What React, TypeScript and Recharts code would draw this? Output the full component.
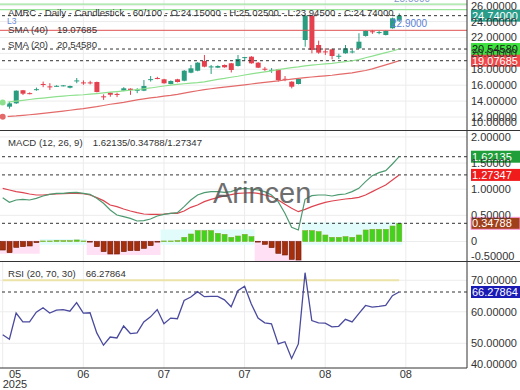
import { ComposedChart, Bar, Line, XAxis, YAxis, CartesianGrid, ReferenceLine, ReferenceArea } from 'recharts'

const FONT = "'Liberation Sans', Arial, sans-serif"

// daily candles, 60 sessions
const opens = [
  14.30, 13.30, 13.72, 15.36, 15.00, 15.45, 16.15, 15.85, 15.87, 15.88,
  15.68, 16.52, 16.35, 16.35, 16.40, 14.60, 15.06, 14.90, 15.31, 15.56,
  15.37, 15.31, 16.72, 16.90, 16.74, 16.15, 16.74, 16.56, 17.57, 17.82,
  19.04, 18.30, 18.20, 18.54, 18.75, 18.41, 19.50, 19.58, 18.83, 18.07,
  17.88, 18.00, 16.80, 16.44, 16.15, 21.68, 24.75, 21.05, 20.25, 20.51,
  19.64, 20.01, 20.18, 20.64, 22.19, 22.78, 22.62, 22.31, 23.16, 24.15,
]
const highs = [
  14.40, 13.92, 15.35, 15.40, 15.10, 15.70, 16.45, 16.25, 16.00, 16.02,
  15.95, 16.90, 16.60, 16.55, 16.45, 14.85, 15.10, 15.05, 15.75, 15.60,
  15.62, 16.65, 17.15, 17.05, 16.80, 16.60, 16.80, 17.90, 18.54, 18.90,
  19.80, 18.54, 18.50, 18.60, 18.80, 19.80, 19.55, 19.65, 18.90, 18.30,
  18.15, 18.05, 17.15, 16.50, 16.85, 24.85, 24.85, 21.60, 20.64, 20.60,
  19.95, 21.05, 20.45, 22.53, 22.90, 22.95, 22.85, 22.90, 24.50, 25.025,
]
const lows = [
  13.80, 13.05, 13.65, 14.76, 14.85, 15.30, 15.75, 15.40, 15.80, 15.85,
  15.60, 16.25, 16.05, 16.10, 15.10, 14.15, 14.55, 14.50, 15.25, 14.78,
  15.00, 15.25, 16.45, 16.75, 16.20, 16.10, 16.35, 16.50, 17.50, 17.75,
  18.25, 17.41, 18.15, 18.20, 17.60, 18.35, 19.05, 18.70, 18.15, 17.80,
  17.55, 16.45, 16.50, 15.60, 16.10, 20.84, 20.00, 19.95, 19.80, 19.26,
  19.30, 19.95, 20.00, 20.55, 22.10, 22.45, 22.40, 22.25, 23.10, 23.945,
]
const closes = [
  13.89, 13.72, 15.31, 14.93, 14.95, 15.50, 16.08, 15.78, 15.92, 15.98,
  15.90, 16.60, 16.28, 16.30, 15.14, 14.50, 14.80, 14.83, 15.61, 15.40,
  15.42, 15.90, 16.76, 16.85, 16.24, 16.53, 16.40, 17.82, 18.12, 18.83,
  18.33, 18.36, 18.41, 18.25, 17.91, 19.29, 19.53, 18.75, 18.20, 18.02,
  17.93, 16.65, 16.75, 15.81, 16.78, 24.75, 20.43, 20.09, 20.18, 19.67,
  19.70, 20.64, 20.24, 21.47, 22.82, 22.70, 22.68, 22.82, 24.41, 24.74,
]
const sma20 = [
  13.82, 13.90, 14.00, 14.10, 14.20, 14.30, 14.38, 14.46, 14.55, 14.62,
  14.70, 14.75, 14.80, 14.87, 14.95, 15.03, 15.12, 15.20, 15.28, 15.36,
  15.45, 15.55, 15.65, 15.77, 15.90, 16.00, 16.10, 16.18, 16.25, 16.32,
  16.42, 16.58, 16.72, 16.85, 17.00, 17.12, 17.28, 17.42, 17.55, 17.68,
  17.80, 17.95, 18.08, 18.20, 18.30, 18.42, 18.52, 18.60, 18.68, 18.75,
  18.85, 18.96, 19.07, 19.22, 19.45, 19.65, 19.88, 20.10, 20.30, 20.5458,
]
const sma40 = [
  12.04, 12.08, 12.13, 12.20, 12.28, 12.36, 12.45, 12.55, 12.65, 12.75,
  12.85, 12.95, 13.05, 13.17, 13.30, 13.45, 13.60, 13.72, 13.85, 14.00,
  14.15, 14.28, 14.40, 14.50, 14.62, 14.72, 14.85, 15.00, 15.15, 15.30,
  15.45, 15.55, 15.65, 15.75, 15.85, 15.95, 16.05, 16.15, 16.25, 16.35,
  16.45, 16.55, 16.65, 16.75, 16.85, 16.95, 17.03, 17.10, 17.18, 17.25,
  17.35, 17.45, 17.55, 17.70, 17.85, 18.05, 18.30, 18.55, 18.80, 19.07685,
]
const macd = [
  0.838, 0.749, 0.794, 0.806, 0.794, 0.825, 0.870, 0.902, 0.921, 0.921,
  0.934, 0.940, 0.921, 0.902, 0.825, 0.730, 0.602, 0.507, 0.475, 0.443,
  0.392, 0.398, 0.430, 0.488, 0.519, 0.539, 0.551, 0.666, 0.794, 0.889,
  0.934, 0.953, 0.953, 0.940, 0.953, 1.004, 1.017, 1.004, 0.985, 0.953,
  0.889, 0.762, 0.539, 0.271, 0.220, 0.806, 0.876, 0.889, 0.889, 0.870,
  0.895, 0.908, 0.953, 1.017, 1.144, 1.259, 1.316, 1.354, 1.482, 1.62135,
]
const signal = [
  1.017, 0.985, 0.953, 0.934, 0.908, 0.889, 0.889, 0.902, 0.908, 0.915,
  0.921, 0.921, 0.915, 0.889, 0.838, 0.781, 0.698, 0.666, 0.621, 0.583,
  0.551, 0.526, 0.519, 0.519, 0.526, 0.539, 0.539, 0.583, 0.653, 0.698,
  0.762, 0.806, 0.838, 0.870, 0.895, 0.921, 0.927, 0.934, 0.921, 0.889,
  0.857, 0.794, 0.711, 0.634, 0.570, 0.615, 0.666, 0.711, 0.749, 0.774,
  0.794, 0.813, 0.825, 0.845, 0.889, 0.953, 1.017, 1.080, 1.176, 1.27347,
]
const histogram = [
  -0.163, -0.214, -0.112, -0.099, -0.086, -0.022, 0.010, 0.010, 0.022, 0.016,
  0.016, 0.029, 0.010, -0.005, -0.099, -0.194, -0.239, -0.239, -0.194, -0.175,
  -0.175, -0.131, -0.080, -0.010, 0.010, 0.010, 0.016, 0.080, 0.143, 0.207,
  0.207, 0.207, 0.156, 0.137, 0.080, 0.105, 0.137, 0.092, -0.010, -0.054,
  -0.118, -0.226, -0.258, -0.341, -0.354, 0.207, 0.207, 0.188, 0.124, 0.080,
  0.080, 0.092, 0.080, 0.124, 0.220, 0.233, 0.233, 0.233, 0.296, 0.34788,
]
const rsi = [
  52.7, 51.3, 59.6, 56.8, 56.8, 59.9, 61.3, 59.6, 60.5, 60.7,
  60.2, 62.9, 59.6, 59.7, 53.3, 49.4, 52.0, 51.7, 55.5, 53.1,
  53.3, 56.8, 58.4, 60.7, 56.2, 58.0, 57.8, 63.6, 64.7, 66.4,
  64.8, 64.9, 64.9, 63.8, 61.6, 66.7, 68.1, 62.5, 58.0, 56.5,
  56.2, 49.8, 50.5, 45.2, 49.8, 72.4, 57.2, 56.5, 56.4, 55.2,
  55.4, 57.6, 56.8, 59.4, 62.0, 61.5, 61.7, 62.0, 65.1, 66.27864,
]

const monthTicks = [0, 12, 24, 36, 48, 60]
const monthLabels = ['05', '06', '07', '07', '08', '08']
const priceTicks = [10, 12, 14, 16, 18, 20, 22, 24, 26]
const macdTicks = [-0.5, 0, 0.5, 1, 1.5, 2]
const rsiTicks = [40, 50, 60, 70]

const data = opens.map((o, i) => ({
  i, open: o, high: highs[i], low: lows[i], close: closes[i],
  range: [lows[i], highs[i]],
  sma20: sma20[i], sma40: sma40[i],
  macd: macd[i], signal: signal[i], hist: histogram[i], rsi: rsi[i],
}))

// pink / cyan bands behind each run of same-sign histogram bars
const runs: { from: number; to: number; pos: boolean; ext: number }[] = []
let runStart = 0
for (let i = 1; i <= histogram.length; i++) {
  if (i === histogram.length || (histogram[i] >= 0) !== (histogram[runStart] >= 0)) {
    const seg = histogram.slice(runStart, i)
    const pos = histogram[runStart] >= 0
    runs.push({ from: runStart, to: i - 1, pos, ext: pos ? Math.max(...seg) : Math.min(...seg) })
    runStart = i
  }
}

const X_DOMAIN = [-0.4, 69.1]
const AXIS_W = 53
const UP = '#2a9d80'
const DOWN = '#e4404e'

function candleShape(props: any) {
  const { x, width, payload } = props
  let { y, height } = props
  if (height < 0) { y += height; height = -height }
  const { open, close, high, low } = payload
  const k = high > low ? height / (high - low) : 0
  const yOf = (v: number) => y + (high - v) * k
  const color = close >= open ? UP : DOWN
  const top = yOf(Math.max(open, close))
  const bot = yOf(Math.min(open, close))
  const cx = x + width / 2
  return (
    <g>
      <line x1={cx} x2={cx} y1={y} y2={y + height} stroke={color} strokeWidth={1} />
      <rect x={x} y={top} width={width} height={Math.max(1, bot - top)} fill={color} />
    </g>
  )
}

function histShape(props: any) {
  const { x, width, payload } = props
  let { y, height } = props
  if (height < 0) { y += height; height = -height }
  const pos = payload.hist >= 0
  return (
    <rect x={x} y={y} width={width} height={Math.max(height, 0.6)}
      fill={pos ? '#41d41c' : '#a52f0c'} stroke={pos ? '#86a828' : '#6e1c05'} strokeWidth={0.6} />
  )
}

function yTick(minY: number, maxY: number) {
  return (p: any) => {
    const v = p.payload.value
    const yy = Math.min(maxY, Math.max(minY, p.y))
    return (
      <text x={p.x} y={yy} dy={4} fontSize={11} fontFamily={FONT} fill="#333" textAnchor="start">
        {v === 0 ? '0' : v.toFixed(5)}
      </text>
    )
  }
}

function valueBox(text: string, bg: string, fg: string, border?: string) {
  return (p: any) => {
    const vb = p.viewBox
    const x = vb.x + vb.width + 4
    return (
      <g>
        <rect x={x} y={vb.y - 6} width={49} height={12} fill={bg} stroke={border ?? 'none'} strokeWidth={1} />
        <text x={x + 1} y={vb.y} dy={4} fontSize={11} fontFamily={FONT} fill={fg}>{text}</text>
      </g>
    )
  }
}

function xTick(p: any) {
  const idx = monthTicks.indexOf(p.payload.value)
  const first = idx === 0
  const x = first ? Math.max(p.x, 15) : p.x
  return (
    <g>
      <text x={x} y={p.y} dy={8} fontSize={11} fontFamily={FONT} fill="#333" textAnchor="middle">{monthLabels[idx]}</text>
      {first && <text x={x} y={p.y} dy={18} fontSize={11} fontFamily={FONT} fill="#333" textAnchor="middle">2025</text>}
    </g>
  )
}

const noMargin = { top: 0, right: 0, bottom: 0, left: 0 }
const txt = (top: number, left: number, extra: object = {}) => ({
  position: 'absolute' as const, top, left, fontSize: 9.6, lineHeight: '12px', color: '#333',
  fontFamily: FONT, whiteSpace: 'pre' as const, pointerEvents: 'none' as const, ...extra,
})

export default function App() {
  return (
    <div style={{ position: 'absolute', left: 0, top: 0, width: 520, height: 390, background: '#fff', overflow: 'hidden' }}>
      {/* Price panel */}
      <div style={{ position: 'absolute', left: 0, top: 0 }}>
        <ComposedChart width={520} height={131} data={data} margin={noMargin}>
          <CartesianGrid stroke="#ececec" horizontalValues={priceTicks} verticalValues={monthTicks} />
          <XAxis dataKey="i" type="number" domain={X_DOMAIN} ticks={monthTicks} hide allowDataOverflow />
          <YAxis orientation="right" width={AXIS_W} domain={[10.24, 26.71]} ticks={priceTicks} interval={0}
            allowDataOverflow axisLine={{ stroke: '#333' }} tickLine={false} tickSize={0} tickMargin={4}
            tick={yTick(5, 122)} />
          <ReferenceLine y={26.2} stroke="#9be39b" strokeWidth={1.2} />
          <ReferenceLine y={25.5} stroke="#9be39b" strokeWidth={1.2} />
          <ReferenceLine y={22.9} stroke="#e05050" strokeWidth={1} />
          <ReferenceLine y={24.74} stroke="#333" strokeDasharray="3 3" label={valueBox('24.74000', '#2a9d8a', '#fff')} />
          <ReferenceLine y={20.5458} stroke="#333" strokeDasharray="3 3" label={valueBox('20.54580', '#3ee23e', '#1a1a1a')} />
          <ReferenceLine y={19.07685} stroke="#333" strokeDasharray="3 3" label={valueBox('19.07685', '#f04848', '#fff')} />
          <Line dataKey="sma40" stroke="#e46a6a" strokeWidth={1.2} dot={false} isAnimationActive={false} />
          <Line dataKey="sma20" stroke="#8ee08e" strokeWidth={1.2} dot={false} isAnimationActive={false} />
          <Bar dataKey="range" shape={candleShape} barSize={5} isAnimationActive={false} />
        </ComposedChart>
      </div>
      <div style={txt(-7, 394, { color: '#7f96c8', fontSize: 10 })}>25.5000</div>
      <div style={txt(18, 391, { color: '#5a7fd6', fontSize: 10 })}>22.9000</div>
      <div style={txt(7, 8)}>AMRC - Daily - Candlestick - 60/100 - O:24.15000 - H:25.02500 - L:23.94500 - C:24.74000</div>
      <div style={txt(15, 7, { color: '#6a8ad8', fontSize: 8.5 })}>L3</div>
      <div style={txt(24, 8)}>SMA (40)<span style={{ marginLeft: 9 }}>19.07685</span></div>
      <div style={txt(39, 8)}>SMA (20)<span style={{ marginLeft: 9 }}>20.54580</span></div>

      {/* MACD panel */}
      <div style={{ position: 'absolute', left: 0, top: 130, width: 520, height: 1, background: '#333' }} />
      <div style={{ position: 'absolute', left: 0, top: 131 }}>
        <ComposedChart width={520} height={130} data={data} margin={noMargin}>
          <CartesianGrid stroke="#ececec" horizontalValues={macdTicks} verticalValues={monthTicks} />
          <XAxis dataKey="i" type="number" domain={X_DOMAIN} ticks={monthTicks} hide allowDataOverflow />
          <YAxis orientation="right" width={AXIS_W} domain={[-0.373, 2.113]} ticks={macdTicks} interval={0}
            allowDataOverflow axisLine={{ stroke: '#333' }} tickLine={false} tickSize={0} tickMargin={4}
            tick={yTick(5, 125)} />
          {runs.map((r, k) => (
            <ReferenceArea key={k} x1={r.from - 0.5} x2={r.to + 0.5}
              y1={r.pos ? -0.06 : 0.02} y2={r.pos ? r.ext + 0.02 : r.ext - 0.02}
              fill={r.pos ? '#e2fcfc' : '#ffe0f4'} fillOpacity={1} stroke="none" ifOverflow="hidden" />
          ))}
          <ReferenceLine y={1.62135} stroke="#333" strokeDasharray="3 3" label={valueBox('1.62135', '#1f9e3a', '#fff')} />
          <ReferenceLine y={1.27347} stroke="#333" strokeDasharray="3 3" label={valueBox('1.27347', '#f01c1c', '#fff')} />
          <ReferenceLine y={0.34788} stroke="#333" strokeDasharray="3 3" label={valueBox('0.34788', '#a0401a', '#fff', '#ff9fdc')} />
          <Bar dataKey="hist" shape={histShape} barSize={5} isAnimationActive={false} />
          <Line dataKey="signal" stroke="#de4450" strokeWidth={1.2} dot={false} isAnimationActive={false} />
          <Line dataKey="macd" stroke="#4d9a70" strokeWidth={1.2} dot={false} isAnimationActive={false} />
        </ComposedChart>
      </div>
      <div style={txt(137, 8)}>MACD (12, 26, 9)<span style={{ marginLeft: 10 }}>1.62135/0.34788/1.27347</span></div>
      <div style={txt(178, 213, { fontSize: 29, lineHeight: '30px', color: '#555', opacity: 0.85 })}>Arincen</div>

      {/* RSI panel */}
      <div style={{ position: 'absolute', left: 0, top: 261, width: 520, height: 1, background: '#333' }} />
      <div style={{ position: 'absolute', left: 0, top: 262 }}>
        <ComposedChart width={520} height={128} data={data} margin={noMargin}>
          <CartesianGrid stroke="#ececec" horizontalValues={[50, 60, 70]} verticalValues={monthTicks} />
          <XAxis dataKey="i" type="number" domain={X_DOMAIN} ticks={monthTicks} interval={0} height={22}
            allowDataOverflow axisLine={{ stroke: '#333' }} tickLine={false} tickSize={0} tickMargin={2} tick={xTick} />
          <YAxis orientation="right" width={AXIS_W} domain={[42.16, 75.8]} ticks={rsiTicks} interval={0}
            allowDataOverflow axisLine={{ stroke: '#333' }} tickLine={false} tickSize={0} tickMargin={4}
            tick={yTick(5, 102)} />
          <ReferenceLine segment={[{ x: 0, y: 70 }, { x: 59, y: 70 }]} stroke="#ebe3a8" strokeWidth={2} />
          <ReferenceLine y={66.27864} stroke="#333" strokeDasharray="3 3" label={valueBox('66.27864', '#1a1ab4', '#fff')} />
          <Line dataKey="rsi" stroke="#4a4a9e" strokeWidth={1.3} dot={false} isAnimationActive={false} />
        </ComposedChart>
      </div>
      <div style={txt(268, 8)}>RSI (20, 70, 30)<span style={{ marginLeft: 10 }}>66.27864</span></div>
    </div>
  )
}
